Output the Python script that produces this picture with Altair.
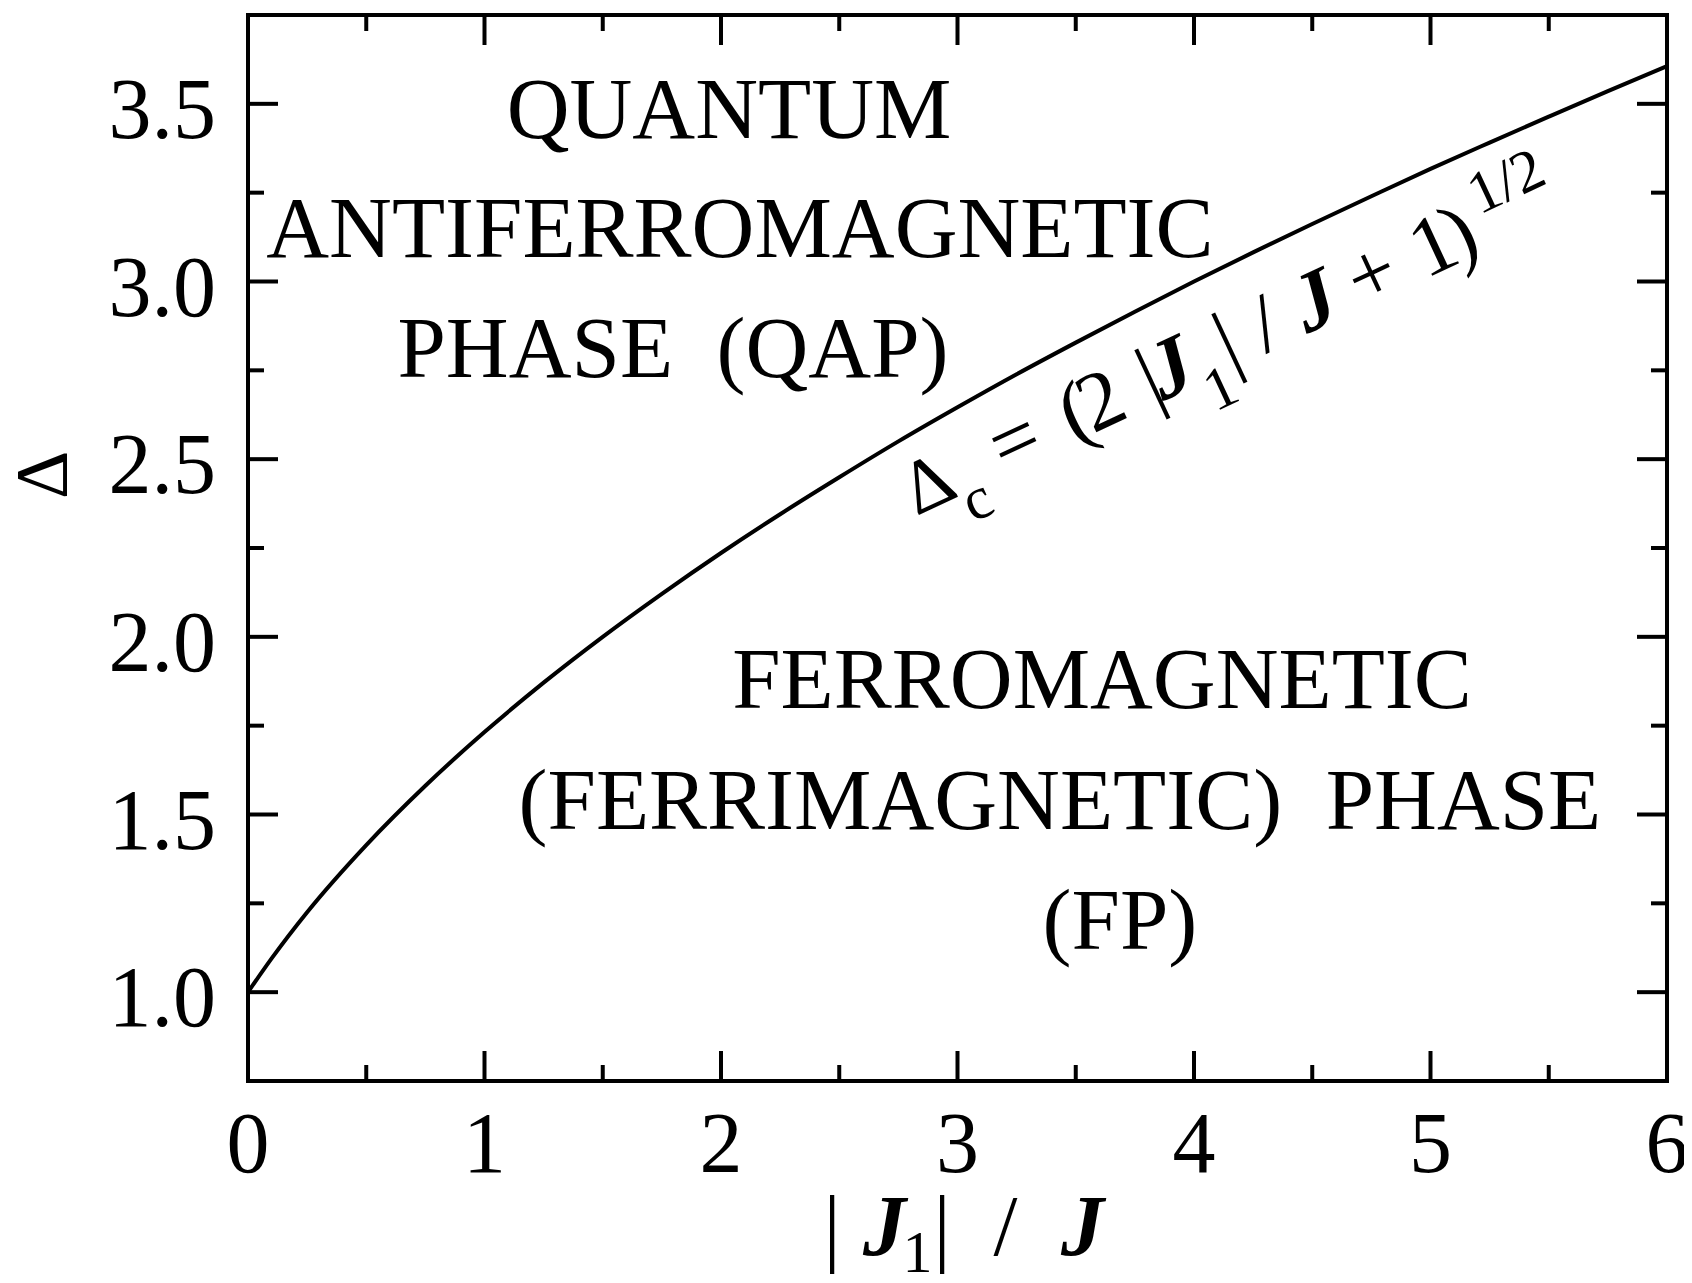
import altair as alt
import pandas as pd

# ---- data ----
j_ratio = [0.0, 0.1, 0.25, 0.5, 0.75, 1.0, 1.25, 1.5, 1.75, 2.0, 2.25, 2.5, 2.75,
           3.0, 3.25, 3.5, 3.75, 4.0, 4.25, 4.5, 4.75, 5.0, 5.25, 5.5, 5.75, 6.0]
delta_c = [1.00, 1.095, 1.225, 1.414, 1.581, 1.732, 1.871, 2.000, 2.121, 2.236, 2.345,
           2.449, 2.550, 2.646, 2.739, 2.828, 2.915, 3.000, 3.082, 3.162, 3.240,
           3.317, 3.391, 3.464, 3.536, 3.606]

x_major = [0, 1, 2, 3, 4, 5, 6]
x_labels = ["0", "1", "2", "3", "4", "5", "6"]
x_minor = [0.5, 1.5, 2.5, 3.5, 4.5, 5.5]
y_major = [1.0, 1.5, 2.0, 2.5, 3.0, 3.5]
y_labels = ["1.0", "1.5", "2.0", "2.5", "3.0", "3.5"]
y_minor = [1.25, 1.75, 2.25, 2.75, 3.25]

phase_text = ["QUANTUM", "ANTIFERROMAGNETIC", "PHASE\u00a0\u00a0(QAP)",
              "FERROMAGNETIC", "(FERRIMAGNETIC)\u00a0\u00a0PHASE", "(FP)"]
phase_x = [2.034, 2.08, 1.797, 3.611, 3.433, 3.687]
phase_y = [3.404, 3.069, 2.731, 1.800, 1.459, 1.122]

# formula label anchor (data coords) and x-title anchor
formula_x = [2.837]
formula_y = [2.343]
title_x = [3.0]
title_y = [0.260]

W, H = 1419, 1066
FONT = "Liberation Serif"
MAJ, MIN = 30, 16
LW = 4

xs = alt.Scale(domain=[0, 6], nice=False, zero=False)
ys = alt.Scale(domain=[0.75, 3.75], nice=False, zero=False)

def X(field):
    return alt.X(field, scale=xs, axis=None)

def Y(field):
    return alt.Y(field, scale=ys, axis=None)

curve_df = pd.DataFrame({"x": j_ratio, "y": delta_c})
line = alt.Chart(curve_df).mark_line(color="black", strokeWidth=LW, interpolate="monotone").encode(
    x=X("x:Q"), y=Y("y:Q"))

layers = [line]

def xticks(vals, length):
    df = pd.DataFrame({"v": vals})
    base = alt.Chart(df).mark_rule(color="black", strokeWidth=LW)
    bot = base.encode(x=X("v:Q"), y=alt.value(H), y2=alt.value(H - length))
    top = base.encode(x=X("v:Q"), y=alt.value(0), y2=alt.value(length))
    return [bot, top]

def yticks(vals, length):
    df = pd.DataFrame({"v": vals})
    base = alt.Chart(df).mark_rule(color="black", strokeWidth=LW)
    left = base.encode(y=Y("v:Q"), x=alt.value(0), x2=alt.value(length))
    right = base.encode(y=Y("v:Q"), x=alt.value(W), x2=alt.value(W - length))
    return [left, right]

layers += xticks(x_major, MAJ) + xticks(x_minor, MIN) + yticks(y_major, MAJ) + yticks(y_minor, MIN)

# tick labels
xl_df = pd.DataFrame({"v": x_major, "lab": x_labels})
layers.append(
    alt.Chart(xl_df).mark_text(font=FONT, fontSize=86, align="center", baseline="alphabetic",
                               color="black").encode(
        x=X("v:Q"), y=alt.value(H + 91), text="lab:N"))
yl_df = pd.DataFrame({"v": y_major, "lab": y_labels})
layers.append(
    alt.Chart(yl_df).mark_text(font=FONT, fontSize=86, align="right", baseline="alphabetic",
                               dy=34, color="black").encode(
        y=Y("v:Q"), x=alt.value(-32), text="lab:N"))

# y title (rotated Delta)
ytitle_df = pd.DataFrame({"t": ["Δ"]})
layers.append(
    alt.Chart(ytitle_df).mark_text(font=FONT, fontSize=75, angle=270, align="center",
                                   baseline="alphabetic", color="black").encode(
        x=alt.value(-181), y=alt.value(460), text="t:N"))

# phase labels
phase_df = pd.DataFrame({"x": phase_x, "y": phase_y, "t": phase_text})
layers.append(
    alt.Chart(phase_df).mark_text(font=FONT, fontSize=87, align="center", baseline="alphabetic",
                                  color="black").encode(
        x=X("x:Q"), y=Y("y:Q"), text="t:N"))

formula_df = pd.DataFrame({"x": formula_x, "y": formula_y})
F = 84
# (text, offset along baseline, offset below baseline, size, style, weight)
formula_parts = [
    ("Δ", 21.5, 0, 76, "normal", "normal"),
    ("c", 59, 30, 60, "normal", "normal"),
    ("=", 118, 0, F, "normal", "normal"),
    ("(", 185, 0, F, "normal", "normal"),
    ("2", 213, 0, F, "normal", "normal"),
    ("|", 267, 0, F, "normal", "normal"),
    ("J", 290, 0, F, "italic", "bold"),
    ("1", 327, 32, 60, "normal", "normal"),
    ("|", 352, 0, F, "normal", "normal"),
    ("/", 394, 0, F, "normal", "normal"),
    ("J", 449, 0, F, "italic", "bold"),
    ("+", 512, 0, F, "normal", "normal"),
    ("1", 580, 0, F, "normal", "normal"),
    (")", 609, 0, F, "normal", "normal"),
    ("1/2", 673, -35, 60, "normal", "normal"),
]
for txt, s, d, size, style, weight in formula_parts:
    layers.append(
        alt.Chart(formula_df).mark_text(text=txt, angle=335, dx=s, dy=d, align="center",
                                        baseline="alphabetic", font=FONT, fontSize=size,
                                        fontStyle=style, fontWeight=weight, color="black").encode(
            x=X("x:Q"), y=Y("y:Q"))
    )

title_df = pd.DataFrame({"x": title_x, "y": title_y})
title_parts = [
    ("|", -125.5, 0, 86, "normal", "normal"),
    ("J", -73, 0, 86, "italic", "bold"),
    ("1", -40, 17, 60, "normal", "normal"),
    ("|", -15.5, 0, 86, "normal", "normal"),
    ("/", 48, 0, 86, "normal", "normal"),
    ("J", 125, 0, 86, "italic", "bold"),
]
for txt, s, d, size, style, weight in title_parts:
    layers.append(
        alt.Chart(title_df).mark_text(text=txt, dx=s, dy=d, align="center",
                                      baseline="alphabetic", font=FONT, fontSize=size,
                                      fontStyle=style, fontWeight=weight, color="black").encode(
            x=X("x:Q"), y=Y("y:Q"))
    )

chart = alt.layer(*layers).properties(
    width=W, height=H,
    autosize=alt.AutoSizeParams(type="none"),
    padding={"left": 240, "top": 7, "right": 17, "bottom": 194},
).configure_view(
    stroke="black", strokeWidth=LW
)

chart.save("out.html", embed_options={"renderer": "svg", "actions": False})
